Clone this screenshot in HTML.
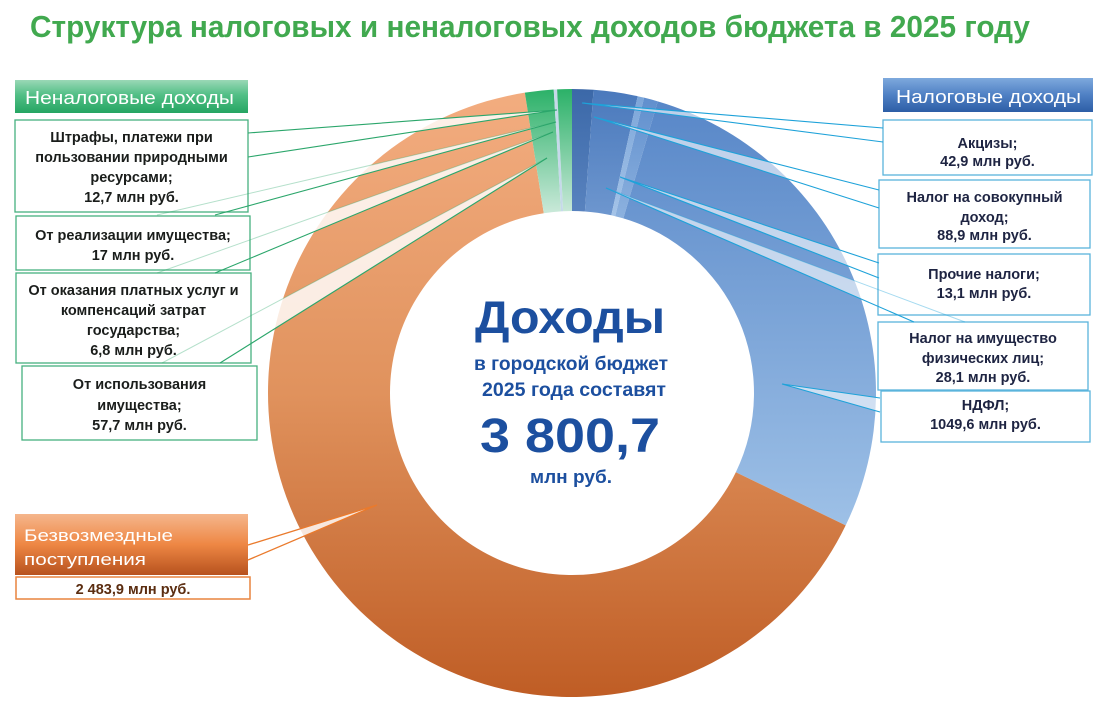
<!DOCTYPE html>
<html><head><meta charset="utf-8"><style>
html,body{margin:0;padding:0;background:#fff;}
svg{display:block;}
text{font-family:"Liberation Sans","DejaVu Sans",sans-serif;}
</style></head><body>
<svg width="1114" height="714" viewBox="0 0 1114 714" xmlns="http://www.w3.org/2000/svg">
<defs>
<linearGradient id="gAk" gradientUnits="userSpaceOnUse" x1="0" y1="89" x2="0" y2="218"><stop offset="0" stop-color="#3b68a8"/><stop offset="1" stop-color="#5a84c0"/></linearGradient>
<linearGradient id="gSov" gradientUnits="userSpaceOnUse" x1="0" y1="89" x2="0" y2="218"><stop offset="0" stop-color="#4a79bc"/><stop offset="1" stop-color="#6e97cf"/></linearGradient>
<linearGradient id="gPr" gradientUnits="userSpaceOnUse" x1="0" y1="95" x2="0" y2="218"><stop offset="0" stop-color="#7ba5d9"/><stop offset="1" stop-color="#a5c4e8"/></linearGradient>
<linearGradient id="gIm" gradientUnits="userSpaceOnUse" x1="0" y1="95" x2="0" y2="220"><stop offset="0" stop-color="#5f8ecd"/><stop offset="1" stop-color="#8db2df"/></linearGradient>
<linearGradient id="gNd" gradientUnits="userSpaceOnUse" x1="0" y1="100" x2="0" y2="560"><stop offset="0" stop-color="#5887c8"/><stop offset="1" stop-color="#a3c5e9"/></linearGradient>
<linearGradient id="gOr" gradientUnits="userSpaceOnUse" x1="0" y1="89" x2="0" y2="697"><stop offset="0" stop-color="#f3ad80"/><stop offset="0.5" stop-color="#e0925d"/><stop offset="1" stop-color="#bf5d25"/></linearGradient>
<linearGradient id="gGr" gradientUnits="userSpaceOnUse" x1="0" y1="89" x2="0" y2="214"><stop offset="0" stop-color="#2bb168"/><stop offset="1" stop-color="#cbe9da"/></linearGradient>
<linearGradient id="hGreen" x1="0" y1="0" x2="0" y2="1"><stop offset="0" stop-color="#9ad8b6"/><stop offset="0.45" stop-color="#52bf86"/><stop offset="1" stop-color="#25a562"/></linearGradient>
<linearGradient id="hBlue" x1="0" y1="0" x2="0" y2="1"><stop offset="0" stop-color="#7ea9dd"/><stop offset="0.5" stop-color="#4f80c4"/><stop offset="1" stop-color="#2d5ea6"/></linearGradient>
<linearGradient id="hOr" x1="0" y1="0" x2="0" y2="1"><stop offset="0" stop-color="#f5b68c"/><stop offset="0.5" stop-color="#ee8744"/><stop offset="1" stop-color="#b7521e"/></linearGradient>
</defs>

<!-- Title -->
<text x="30" y="37" font-size="31" font-weight="bold" fill="#41a94f" textLength="1000" lengthAdjust="spacingAndGlyphs">Структура налоговых и неналоговых доходов бюджета в 2025 году</text>

<!-- Donut -->
<path d="M572,89 A304,304 0 0 1 593.54,89.76 L584.89,211.46 A182,182 0 0 0 572,211 Z" fill="url(#gAk)"/>
<path d="M593.54,89.76 A304,304 0 0 1 637.71,96.19 L611.34,215.30 A182,182 0 0 0 584.89,211.46 Z" fill="url(#gSov)"/>
<path d="M637.71,96.19 A304,304 0 0 1 644.12,97.68 L615.18,216.20 A182,182 0 0 0 611.34,215.30 Z" fill="url(#gPr)"/>
<path d="M644.12,97.68 A304,304 0 0 1 657.76,101.35 L623.34,218.39 A182,182 0 0 0 615.18,216.20 Z" fill="url(#gIm)"/>
<path d="M657.76,101.35 A304,304 0 0 1 845.67,525.36 L735.84,472.24 A182,182 0 0 0 623.34,218.39 Z" fill="url(#gNd)"/>
<path d="M845.67,525.36 A304,304 0 1 1 524.86,92.68 L543.78,213.20 A182,182 0 1 0 735.84,472.24 Z" fill="url(#gOr)"/>
<path d="M524.86,92.68 A304,304 0 0 1 553.71,89.55 L561.05,211.33 A182,182 0 0 0 543.78,213.20 Z" fill="url(#gGr)"/>
<path d="M553.71,89.55 A304,304 0 0 1 557.10,89.36 L563.08,211.22 A182,182 0 0 0 561.05,211.33 Z" fill="#c6d9ea"/>
<path d="M557.10,89.36 A304,304 0 0 1 572,89 L572,211 A182,182 0 0 0 563.08,211.22 Z" fill="url(#gGr)"/>

<!-- Wedge fills -->
<g fill="#ffffff" fill-opacity="0.82">
<path d="M248,133 L557,110 L248,157 Z"/>
<path d="M157,215 L556,122 L215,215 Z"/>
<path d="M157,273 L553,132 L215,273 Z"/>
<path d="M162,363 L547,158 L220,363 Z"/>
<path d="M248,545 L377,505 L248,560 Z"/>
</g>
<g fill="#ffffff" fill-opacity="0.6">
<path d="M883,128 L582,103 L883,142 Z"/>
<path d="M879,190 L594,117 L879,208 Z"/>
<path d="M879,263 L620,177 L879,278 Z"/>
<path d="M914,322 L606,188 L965,322 Z"/>
<path d="M880,398 L782,384 L880,412 Z"/>
</g>

<!-- Left headers & boxes -->
<rect x="15" y="80" width="233" height="33" fill="url(#hGreen)"/>
<text x="25" y="104" font-size="18" fill="#ffffff" textLength="209" lengthAdjust="spacingAndGlyphs">Неналоговые доходы</text>

<g fill="#ffffff" stroke="#46b17f" stroke-width="1.3">
<rect x="15" y="120" width="233" height="92"/>
<rect x="16" y="216" width="234" height="54"/>
<rect x="16" y="273" width="235" height="90"/>
<rect x="22" y="366" width="235" height="74"/>
</g>

<!-- Right headers & boxes -->
<rect x="883" y="78" width="210" height="34" fill="url(#hBlue)"/>
<text x="896" y="103" font-size="18" fill="#ffffff" textLength="185" lengthAdjust="spacingAndGlyphs">Налоговые доходы</text>

<g fill="#ffffff" stroke="#5ab4dc" stroke-width="1.3">
<rect x="883" y="120" width="209" height="55"/>
<rect x="879" y="180" width="211" height="68"/>
<rect x="878" y="254" width="212" height="61"/>
<rect x="878" y="322" width="210" height="68"/>
<rect x="881" y="391" width="209" height="51"/>
</g>

<!-- Orange header -->
<rect x="15" y="514" width="233" height="61" fill="url(#hOr)"/>
<text x="24" y="541" font-size="17" fill="#ffffff" textLength="149" lengthAdjust="spacingAndGlyphs">Безвозмездные</text>
<text x="24" y="565" font-size="17" fill="#ffffff" textLength="122" lengthAdjust="spacingAndGlyphs">поступления</text>
<rect x="16" y="577" width="234" height="22" fill="#ffffff" stroke="#e9843e" stroke-width="1.5"/>
<text x="133" y="594" font-size="14.5" font-weight="bold" fill="#5b2d10" text-anchor="middle">2 483,9 млн руб.</text>

<!-- Wedge lines -->
<g fill="none" stroke="#2ba66b" stroke-width="1.1">
<path d="M248,133 L557,110 L248,157"/>
<path d="M556,122 L215,215"/>
<path d="M553,132 L215,273"/>
<path d="M547,158 L220,363"/>
</g>
<g fill="none" stroke="#2ba66b" stroke-width="1" stroke-opacity="0.35">
<path d="M157,215 L556,122"/>
<path d="M157,273 L553,132"/>
<path d="M162,363 L547,158"/>
</g>
<path d="M248,545 L377,505 L248,560" fill="none" stroke="#ea7a2c" stroke-width="1.3"/>
<g fill="none" stroke="#1ea2d9" stroke-width="1.1">
<path d="M883,128 L582,103 L883,142"/>
<path d="M879,190 L594,117 L879,208"/>
<path d="M879,263 L620,177 L879,278"/>
<path d="M606,188 L914,322"/>
<path d="M880,398 L782,384 L880,412"/>
</g>
<path d="M606,188 L965,322" fill="none" stroke="#1ea2d9" stroke-width="1" stroke-opacity="0.4"/>

<!-- Left box text -->
<g font-size="14.5" font-weight="bold" fill="#1a1d1b" text-anchor="middle">
<text x="131.5" y="142">Штрафы, платежи при</text>
<text x="131.5" y="162">пользовании природными</text>
<text x="131.5" y="182">ресурсами;</text>
<text x="131.5" y="202">12,7 млн руб.</text>
<text x="133" y="240">От реализации имущества;</text>
<text x="133" y="260">17 млн руб.</text>
<text x="133.5" y="295">От оказания платных услуг и</text>
<text x="133.5" y="315">компенсаций затрат</text>
<text x="133.5" y="335">государства;</text>
<text x="133.5" y="355">6,8 млн руб.</text>
<text x="139.5" y="389">От использования</text>
<text x="139.5" y="410">имущества;</text>
<text x="139.5" y="430">57,7 млн руб.</text>
</g>

<!-- Right box text -->
<g font-size="14.5" font-weight="bold" fill="#1e2442" text-anchor="middle">
<text x="987.5" y="148">Акцизы;</text>
<text x="987.5" y="166">42,9 млн руб.</text>
<text x="984.5" y="202">Налог на совокупный</text>
<text x="984.5" y="222">доход;</text>
<text x="984.5" y="240">88,9 млн руб.</text>
<text x="984" y="279">Прочие налоги;</text>
<text x="984" y="298">13,1 млн руб.</text>
<text x="983" y="343">Налог на имущество</text>
<text x="983" y="363">физических лиц;</text>
<text x="983" y="382">28,1 млн руб.</text>
<text x="985.5" y="410">НДФЛ;</text>
<text x="985.5" y="429">1049,6 млн руб.</text>
</g>

<!-- Center text -->
<g font-weight="bold" fill="#1c4f9f">
<text x="475" y="333" font-size="46" textLength="190" lengthAdjust="spacingAndGlyphs">Доходы</text>
<text x="474" y="370" font-size="19" textLength="194" lengthAdjust="spacingAndGlyphs">в городской бюджет</text>
<text x="482" y="396" font-size="19" textLength="184" lengthAdjust="spacingAndGlyphs">2025 года составят</text>
<text x="480" y="452" font-size="48" textLength="180" lengthAdjust="spacingAndGlyphs">3 800,7</text>
<text x="530" y="483" font-size="18" textLength="82" lengthAdjust="spacingAndGlyphs">млн руб.</text>
</g>
</svg>
</body></html>
